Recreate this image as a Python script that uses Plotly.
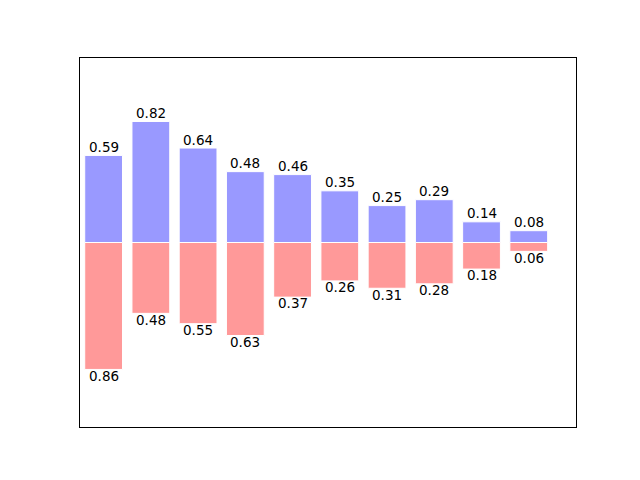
import plotly.graph_objects as go

xs = list(range(10))
upper = [0.59, 0.82, 0.64, 0.48, 0.46, 0.35, 0.25, 0.29, 0.14, 0.08]
lower = [0.86, 0.48, 0.55, 0.63, 0.37, 0.26, 0.31, 0.28, 0.18, 0.06]

fig = go.Figure()
fig.add_trace(go.Bar(x=xs, y=upper, width=0.8, marker=dict(color="#9999ff", line=dict(color="white", width=1))))
fig.add_trace(go.Bar(x=xs, y=[-v for v in lower], width=0.8, marker=dict(color="#ff9999", line=dict(color="white", width=1))))

for x, v in zip(xs, upper):
    fig.add_annotation(x=x, y=v + 0.05, text="%.2f" % v, showarrow=False, yanchor="bottom", xanchor="center", borderpad=0, yshift=-8)
for x, v in zip(xs, lower):
    fig.add_annotation(x=x, y=-v - 0.05, text="%.2f" % v, showarrow=False, yanchor="top", xanchor="center", borderpad=0, yshift=10)

fig.update_layout(
    width=640, height=480, barmode="overlay", showlegend=False,
    plot_bgcolor="white", paper_bgcolor="white",
    margin=dict(l=80, r=64, t=58, b=53),
    font=dict(family="DejaVu Sans", size=13.5, color="black"),
    xaxis=dict(range=[-0.5, 10], showticklabels=False, ticks="", showgrid=False, zeroline=False,
               showline=True, linecolor="black", linewidth=1, mirror=True),
    yaxis=dict(range=[-1.25, 1.25], showticklabels=False, ticks="", showgrid=False, zeroline=False,
               showline=True, linecolor="black", linewidth=1, mirror=True),
)
fig.write_html("out.html")
